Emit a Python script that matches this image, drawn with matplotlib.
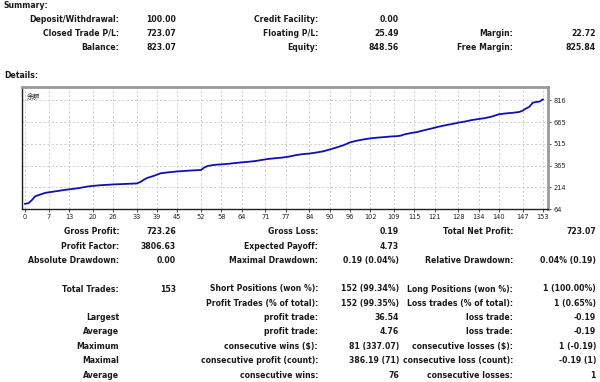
import matplotlib
matplotlib.use("Agg")
import matplotlib.pyplot as plt

# ---------------- data ----------------
summary_col1 = [("Deposit/Withdrawal:", "100.00"), ("Closed Trade P/L:", "723.07"), ("Balance:", "823.07")]
summary_col2 = [("Credit Facility:", "0.00"), ("Floating P/L:", "25.49"), ("Equity:", "848.56")]
summary_col3 = [("", ""), ("Margin:", "22.72"), ("Free Margin:", "825.84")]

trade_x = [0, 1, 2, 3, 4, 5, 6, 8, 10, 12, 14, 16, 18, 20, 22, 24, 26, 28, 30, 32, 33, 34, 35, 36, 37, 38,
           40, 42, 44, 46, 48, 50, 52, 53, 54, 56, 58, 60, 62, 64, 66, 68, 70, 72, 74, 76, 78, 80, 82, 84,
           86, 88, 90, 92, 94, 96, 98, 100, 102, 104, 106, 108, 110, 111, 112, 114, 116, 118, 120, 122, 124,
           126, 128, 130, 132, 134, 136, 138, 140, 142, 144, 146, 147, 148, 149, 150, 151, 152, 153]
balance = [100, 104, 125, 152, 160, 168, 176, 183, 190, 197, 203, 209, 218, 224, 228, 231, 234, 236, 238, 240,
           241, 250, 265, 278, 286, 293, 311, 317, 322, 326, 329, 332, 334, 352, 362, 370, 373, 377, 382, 387,
           391, 396, 404, 411, 416, 420, 427, 437, 444, 448, 455, 463, 476, 490, 505, 525, 537, 546, 553, 558,
           562, 566, 569, 572, 580, 590, 598, 610, 621, 633, 643, 652, 662, 670, 680, 687, 694, 705, 720, 726,
           730, 736, 745, 760, 772, 800, 805, 808, 823]

x_tick_vals = [0, 7, 13, 20, 26, 33, 39, 45, 52, 58, 64, 71, 77, 84, 90, 96, 102, 109, 115, 121, 128, 134, 140, 147, 153]
y_tick_vals = [64, 214, 365, 515, 665, 816]
series_label = "余额"

stats_rows = [
    ("Gross Profit:", "723.26", "Gross Loss:", "0.19", "Total Net Profit:", "723.07"),
    ("Profit Factor:", "3806.63", "Expected Payoff:", "4.73", "", ""),
    ("Absolute Drawdown:", "0.00", "Maximal Drawdown:", "0.19 (0.04%)", "Relative Drawdown:", "0.04% (0.19)"),
    ("Total Trades:", "153", "Short Positions (won %):", "152 (99.34%)", "Long Positions (won %):", "1 (100.00%)"),
    ("", "", "Profit Trades (% of total):", "152 (99.35%)", "Loss trades (% of total):", "1 (0.65%)"),
    ("Largest", "", "profit trade:", "36.54", "loss trade:", "-0.19"),
    ("Average", "", "profit trade:", "4.76", "loss trade:", "-0.19"),
    ("Maximum", "", "consecutive wins ($):", "81 (337.07)", "consecutive losses ($):", "1 (-0.19)"),
    ("Maximal", "", "consecutive profit (count):", "386.19 (71)", "consecutive loss (count):", "-0.19 (1)"),
    ("Average", "", "consecutive wins:", "76", "consecutive losses:", "1"),
]

# ---------------- layout ----------------
W, H = 600, 382
fig = plt.figure(figsize=(W / 100, H / 100), dpi=100)
fig.patch.set_facecolor("white")

FONT = "DejaVu Sans"
FS = 5.6
TXT = "#1a1a1a"


def ptext(x, y, s, ha="right", **kw):
    fig.text(x / W, 1 - y / H, s, ha=ha, va="center", fontsize=kw.pop("fontsize", FS),
             fontweight=kw.pop("fontweight", "bold"), family=kw.pop("family", FONT), color=TXT, **kw)


ptext(4, 6, "Summary:", ha="left")
ptext(4, 75, "Details:", ha="left")

cols_x = [(119, 176), (318, 399), (513, 596)]
sum_y = [19, 33, 47]
for ci, col in enumerate([summary_col1, summary_col2, summary_col3]):
    for ri, (lab, val) in enumerate(col):
        if lab:
            ptext(cols_x[ci][0], sum_y[ri], lab)
        if val:
            ptext(cols_x[ci][1], sum_y[ri], val)

stat_y = [232, 246.3, 260.6, 289, 303.3, 317.6, 332, 346.3, 360.6, 375]
for ri, row in enumerate(stats_rows):
    for ci in range(3):
        lab, val = row[2 * ci], row[2 * ci + 1]
        if lab:
            ptext(cols_x[ci][0], stat_y[ri], lab)
        if val:
            ptext(cols_x[ci][1], stat_y[ri], val)

# ---------------- chart ----------------
ax_l, ax_r, ax_t, ax_b = 22, 548, 87, 209
ax = fig.add_axes([ax_l / W, 1 - ax_b / H, (ax_r - ax_l) / W, (ax_b - ax_t) / H])
ax.set_facecolor("white")
ax.plot(trade_x, balance, color="#1010b0", lw=1.3, solid_joinstyle="round", zorder=3)

ax.set_xlim(-0.89, 154.5)
ax.set_ylim(64, 909)
ax.set_xticks(x_tick_vals)
ax.set_xticklabels([str(v) for v in x_tick_vals])
ax.set_yticks(y_tick_vals)
ax.set_yticklabels([str(v) for v in y_tick_vals])
ax.yaxis.tick_right()
ax.tick_params(axis="both", labelsize=4.8, length=2, width=0.6, color="#333333", pad=1.5, labelcolor="#222222")
ax.tick_params(axis="y", pad=2)
ax.grid(True, color="#c8c8c8", linestyle=(0, (2.5, 2.5)), linewidth=0.6, zorder=1)

for side in ["left", "bottom"]:
    ax.spines[side].set_color("#202020")
    ax.spines[side].set_linewidth(1.0)
for side in ["top", "right"]:
    ax.spines[side].set_color("#9a9a9a")
    ax.spines[side].set_linewidth(2.0)

ax.text(0.01, 0.95, series_label, transform=ax.transAxes, ha="left", va="top",
        fontsize=4.8, family=["Noto Sans CJK SC", "DejaVu Sans"], color="#222222")

fig.savefig("out.png", dpi=100, facecolor="white")
